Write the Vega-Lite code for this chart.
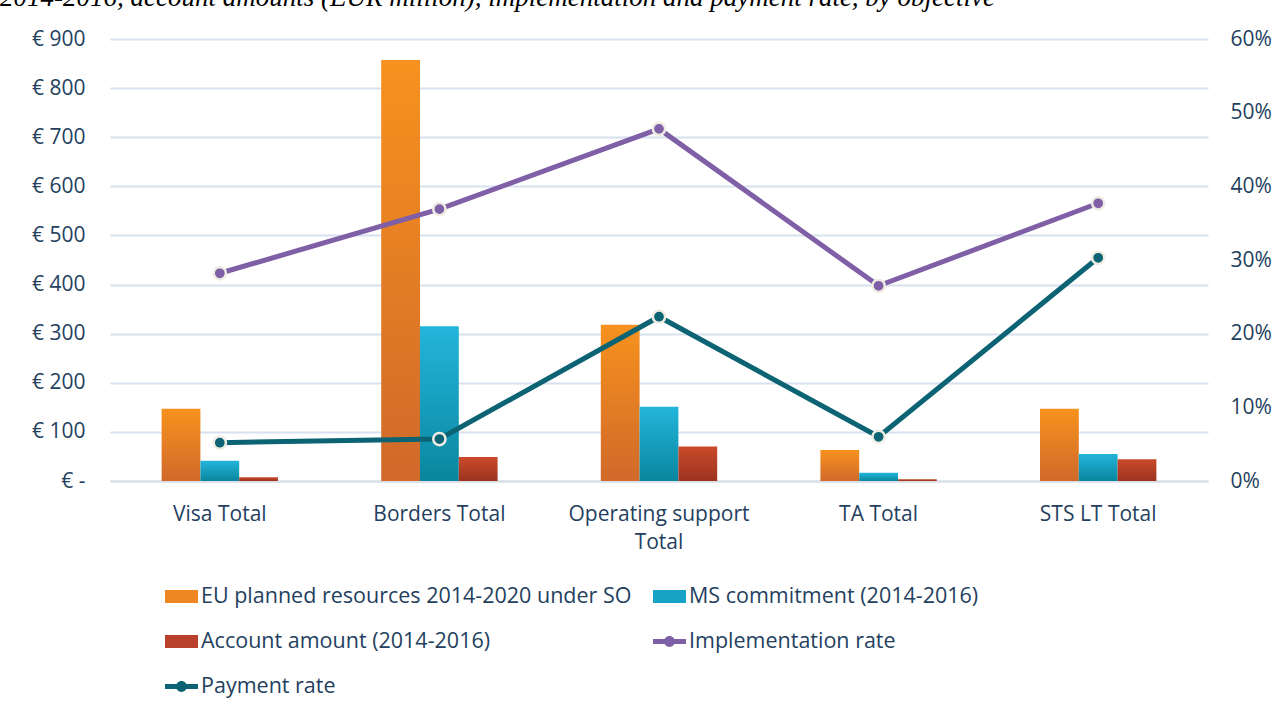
{
  "$schema": "https://vega.github.io/schema/vega-lite/v6.json",
  "width": 1098,
  "height": 442,
  "autosize": {"type": "none"},
  "padding": {"left": 110, "top": 39, "right": 79, "bottom": 232},
  "background": "white",
  "title": {
    "text": "2014-2016, account amounts (EUR million), implementation and payment rate, by objective",
    "anchor": "start",
    "frame": "group",
    "orient": "top",
    "font": "Liberation Serif",
    "fontStyle": "italic",
    "fontWeight": "normal",
    "fontSize": 27,
    "color": "#000000",
    "baseline": "alphabetic",
    "offset": 0,
    "dy": 5,
    "dx": -110
  },
  "config": {
    "font": "Open Sans",
    "view": {"stroke": null},
    "axis": {"labelFont": "Open Sans", "labelFontSize": 21, "labelColor": "#243F60", "ticks": false}
  },
  "data": {
    "values": [
      {"objective": "Visa Total", "series": "EU planned resources 2014-2020 under SO", "value": 147},
      {"objective": "Visa Total", "series": "MS commitment (2014-2016)", "value": 41},
      {"objective": "Visa Total", "series": "Account amount (2014-2016)", "value": 7.6},
      {"objective": "Visa Total", "series": "Implementation rate", "value": 0.282},
      {"objective": "Visa Total", "series": "Payment rate", "value": 0.052},
      {"objective": "Borders Total", "series": "EU planned resources 2014-2020 under SO", "value": 857},
      {"objective": "Borders Total", "series": "MS commitment (2014-2016)", "value": 315},
      {"objective": "Borders Total", "series": "Account amount (2014-2016)", "value": 49},
      {"objective": "Borders Total", "series": "Implementation rate", "value": 0.369},
      {"objective": "Borders Total", "series": "Payment rate", "value": 0.057},
      {"objective": "Operating support Total", "series": "EU planned resources 2014-2020 under SO", "value": 318},
      {"objective": "Operating support Total", "series": "MS commitment (2014-2016)", "value": 151},
      {"objective": "Operating support Total", "series": "Account amount (2014-2016)", "value": 70.5},
      {"objective": "Operating support Total", "series": "Implementation rate", "value": 0.478},
      {"objective": "Operating support Total", "series": "Payment rate", "value": 0.223},
      {"objective": "TA Total", "series": "EU planned resources 2014-2020 under SO", "value": 63},
      {"objective": "TA Total", "series": "MS commitment (2014-2016)", "value": 16.7},
      {"objective": "TA Total", "series": "Account amount (2014-2016)", "value": 3.8},
      {"objective": "TA Total", "series": "Implementation rate", "value": 0.265},
      {"objective": "TA Total", "series": "Payment rate", "value": 0.06},
      {"objective": "STS LT Total", "series": "EU planned resources 2014-2020 under SO", "value": 147},
      {"objective": "STS LT Total", "series": "MS commitment (2014-2016)", "value": 55},
      {"objective": "STS LT Total", "series": "Account amount (2014-2016)", "value": 44.5},
      {"objective": "STS LT Total", "series": "Implementation rate", "value": 0.377},
      {"objective": "STS LT Total", "series": "Payment rate", "value": 0.303}
    ]
  },
  "encoding": {
    "x": {
      "field": "objective",
      "type": "nominal",
      "scale": {
        "domain": ["Visa Total", "Borders Total", "Operating support Total", "TA Total", "STS LT Total"],
        "paddingInner": 0.47,
        "paddingOuter": 0.235
      },
      "axis": {
        "title": null,
        "labelAngle": 0,
        "labelPadding": 22,
        "labelLineHeight": 28,
        "labelLimit": 400,
        "labelExpr": "datum.label == 'Operating support Total' ? ['Operating support', 'Total'] : datum.label",
        "domainColor": "#D9DEE6",
        "domainWidth": 2,
        "grid": false
      }
    }
  },
  "layer": [
    {
      "layer": [
        {
          "transform": [{"filter": "datum.series == 'EU planned resources 2014-2020 under SO'"}],
          "mark": {
            "type": "bar",
            "fill": {"gradient": "linear", "x1": 0, "y1": 0, "x2": 0, "y2": 1, "stops": [{"offset": 0, "color": "#F7921E"}, {"offset": 1, "color": "#D0692A"}]}
          },
          "encoding": {
            "xOffset": {"field": "series", "type": "nominal", "scale": {"domain": ["EU planned resources 2014-2020 under SO", "MS commitment (2014-2016)", "Account amount (2014-2016)"], "paddingInner": 0, "paddingOuter": 0}},
            "y": {"field": "value", "type": "quantitative"}
          }
        },
        {
          "transform": [{"filter": "datum.series == 'MS commitment (2014-2016)'"}],
          "mark": {
            "type": "bar",
            "fill": {"gradient": "linear", "x1": 0, "y1": 0, "x2": 0, "y2": 1, "stops": [{"offset": 0, "color": "#23B5DB"}, {"offset": 1, "color": "#0A869E"}]}
          },
          "encoding": {
            "xOffset": {"field": "series", "type": "nominal"},
            "y": {"field": "value", "type": "quantitative"}
          }
        },
        {
          "transform": [{"filter": "datum.series == 'Account amount (2014-2016)'"}],
          "mark": {
            "type": "bar",
            "fill": {"gradient": "linear", "x1": 0, "y1": 0, "x2": 0, "y2": 1, "stops": [{"offset": 0, "color": "#CB4A2A"}, {"offset": 1, "color": "#9C3320"}]}
          },
          "encoding": {
            "xOffset": {"field": "series", "type": "nominal"},
            "y": {
              "field": "value",
              "type": "quantitative",
              "scale": {"domain": [0, 900], "nice": false},
              "axis": {
                "title": null,
                "values": [0, 100, 200, 300, 400, 500, 600, 700, 800, 900],
                "labelExpr": "datum.value == 0 ? '€ -\u00a0\u00a0\u00a0' : '€ ' + datum.value",
                "labelPadding": 25,
                "domain": false,
                "grid": true,
                "gridColor": "#D7E1F0",
                "gridWidth": 2
              }
            }
          }
        }
      ]
    },
    {
      "transform": [{"filter": "datum.series == 'Implementation rate' || datum.series == 'Payment rate'"}],
      "encoding": {
        "y": {
          "field": "value",
          "type": "quantitative",
          "scale": {"domain": [0, 0.6], "nice": false},
          "axis": {
            "orient": "right",
            "title": null,
            "values": [0, 0.1, 0.2, 0.3, 0.4, 0.5, 0.6],
            "format": ".0%",
            "labelPadding": 22,
            "domain": false,
            "grid": false
          }
        },
        "color": {
          "field": "series",
          "type": "nominal",
          "scale": {
            "domain": ["EU planned resources 2014-2020 under SO", "MS commitment (2014-2016)", "Account amount (2014-2016)", "Implementation rate", "Payment rate"],
            "range": ["#EE8622", "#16A3C6", "#B9402A", "#7F5FA6", "#0B6374"]
          },
          "legend": {
            "title": null,
            "orient": "none",
            "legendX": 55,
            "legendY": 541,
            "direction": "horizontal",
            "columns": 2,
            "columnPadding": 21,
            "rowPadding": 18,
            "padding": 0,
            "labelFont": "Open Sans",
            "labelFontSize": 21.5,
            "labelColor": "#243F60",
            "labelOffset": 3,
            "labelLimit": 700,
            "symbolSize": 1089,
            "labelExpr": "datum.label == 'EU planned resources 2014-2020 under SO' ? '\u00a0' + datum.label : datum.label",
            "encode": {
              "symbols": {
                "update": {
                  "shape": {"signal": "datum.value == 'Implementation rate' || datum.value == 'Payment rate' ? 'M-1,-0.15H1V0.15H-1Z M-0.33,0A0.33,0.33 0 1,1 0.33,0A0.33,0.33 0 1,1 -0.33,0Z' : 'M-1,-0.4H1V0.4H-1Z'"},
                  "fill": {"scale": "color", "field": "value"},
                  "stroke": {"value": "transparent"},
                  "strokeWidth": {"value": 0},
                  "opacity": {"value": 1},
                  "fillOpacity": {"value": 1}
                }
              }
            }
          }
        }
      },
      "layer": [
        {"mark": {"type": "line", "strokeWidth": 5}},
        {"mark": {"type": "point", "filled": true, "size": 150, "stroke": "#EFEDE3", "strokeWidth": 2.5, "opacity": 1}}
      ]
    }
  ],
  "resolve": {"scale": {"y": "independent"}}
}
